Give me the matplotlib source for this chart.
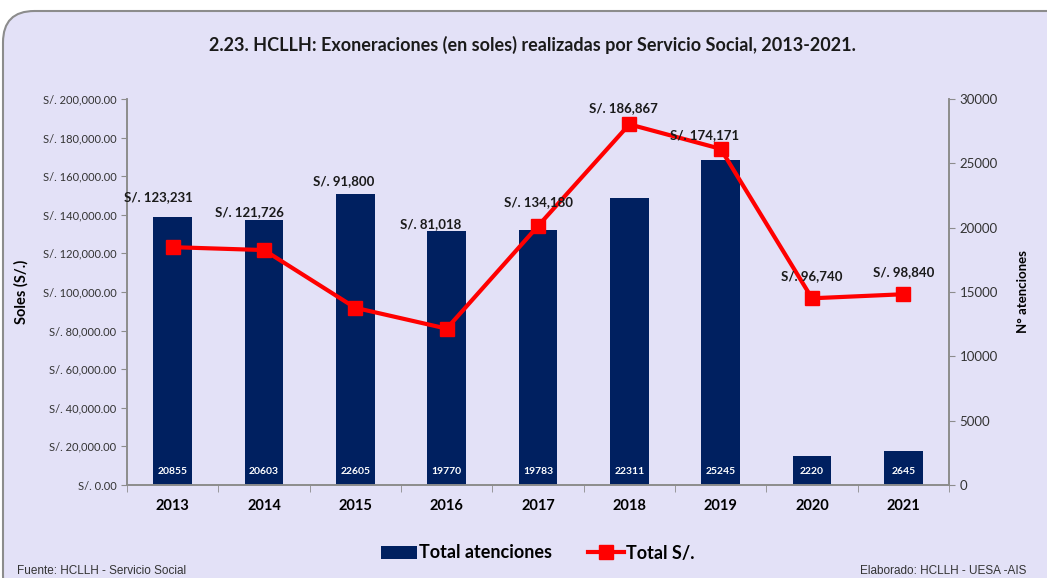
import matplotlib.pyplot as plt
from matplotlib.patches import FancyBboxPatch
from matplotlib.ticker import FuncFormatter, MultipleLocator

years = ["2013", "2014", "2015", "2016", "2017", "2018", "2019", "2020", "2021"]
atenciones = [20855, 20603, 22605, 19770, 19783, 22311, 25245, 2220, 2645]
soles = [123231, 121726, 91800, 81018, 134180, 186867, 174171, 96740, 98840]

# posicion de las etiquetas de la linea (pixeles respecto al punto)
lbl_dx = [-14, -15, -12, -16, 0, -6, -16, 0, 0]
lbl_dy = [50, 38, 127, 105, 24, 16, 14, 22, 22]

plt.rcParams['font.family'] = ['Lato', 'DejaVu Sans']
BG = "#E3E1F7"
NAVY = "#002060"
RED = "#FF0000"
GRAY = "#8C8C8C"

fig = plt.figure(figsize=(10.47, 5.78), dpi=100)
fig.patch.set_facecolor("white")
panel = FancyBboxPatch((3 / 1047, -0.05), 1.1, 1.05 - 11 / 578,
                       boxstyle="round,pad=0,rounding_size=0.03",
                       transform=fig.transFigure, facecolor=BG,
                       edgecolor=GRAY, linewidth=1.5, mutation_aspect=1047 / 578,
                       zorder=-5)
fig.patches.append(panel)

ax = fig.add_axes([127 / 1047, 93 / 578, 822 / 1047, 386 / 578])
ax2 = ax.twinx()
x = range(len(years))

# barras en el eje derecho
ax2.bar(x, atenciones, width=0.42, color=NAVY, zorder=2)
for i, v in enumerate(atenciones):
    ax2.annotate(str(v), (i, 0), xytext=(0, 14), textcoords="offset pixels",
                 ha="center", va="center", color="white", fontsize=7.5,
                 fontweight="bold")
ax2.set_ylim(0, 30000)
ax2.yaxis.set_major_locator(MultipleLocator(5000))
ax2.set_ylabel("N° atenciones", fontsize=9.5, fontweight="bold", labelpad=14)
ax2.tick_params(axis="y", labelsize=9.5, colors="#333333", length=4)

# linea en el eje izquierdo, por encima de las barras
ax.set_zorder(ax2.get_zorder() + 1)
ax.patch.set_visible(False)
ax2.patch.set_facecolor("white")
ax.plot(x, soles, color=RED, lw=3, marker="s", markersize=10, zorder=3)
for i, v in enumerate(soles):
    ax.annotate("S/. {:,}".format(v), (i, v), xytext=(lbl_dx[i], lbl_dy[i]),
                textcoords="offset pixels", ha="center", va="center",
                fontsize=9.5, fontweight="bold", color="#1a1a1a")
ax.set_ylim(0, 200000)
ax.yaxis.set_major_locator(MultipleLocator(20000))
ax.yaxis.set_major_formatter(FuncFormatter(lambda v, p: "S/. {:,.2f}".format(v)))
ax.tick_params(axis="y", labelsize=8, colors="#333333", length=4)
ax.set_ylabel("Soles (S/.)", fontsize=10.5, fontweight="bold", labelpad=10)

ax.set_xlim(-0.5, len(years) - 0.5)
ax.set_xticks(list(x))
ax.set_xticklabels(years, fontsize=10.5, fontweight="bold")
ax.set_xticks([i - 0.5 for i in range(len(years) + 1)], minor=True)
ax.tick_params(axis="x", which="major", length=0, pad=10)
ax.tick_params(axis="x", which="minor", length=5, color=GRAY)
ax2.tick_params(axis="x", length=0)

for a in (ax, ax2):
    a.spines["top"].set_visible(False)
    for s in ("left", "right", "bottom"):
        a.spines[s].set_color(GRAY)
        a.spines[s].set_linewidth(1.2)
    a.tick_params(axis="y", color=GRAY)

fig.text(532 / 1047, 1 - 45 / 578, "2.23. HCLLH: Exoneraciones (en soles) realizadas por Servicio Social, 2013-2021.",
         ha="center", va="center", fontsize=13, fontweight="bold", color="#1a1a1a")

h1 = ax2.bar([0], [0], color=NAVY)
h2, = ax.plot([], [], color=RED, lw=3, marker="s", markersize=10)
fig.legend([h1, h2], ["Total atenciones", "Total S/."], loc="center",
           bbox_to_anchor=(538 / 1047, 1 - 553 / 578), ncol=2, frameon=False,
           prop={"size": 13, "weight": "bold"}, handlelength=2.0,
           handletextpad=0.1, columnspacing=2.0)

fig.text(17 / 1047, 1 - 571 / 578, "Fuente: HCLLH - Servicio Social", ha="left",
         va="center", fontsize=8.5, family=["Liberation Sans Narrow", "Liberation Sans"],
         color="#333333")
fig.text(1026 / 1047, 1 - 571 / 578, "Elaborado: HCLLH - UESA -AIS", ha="right",
         va="center", fontsize=8.5, family=["Liberation Sans Narrow", "Liberation Sans"],
         color="#333333")

fig.savefig("out.png", dpi=100)
